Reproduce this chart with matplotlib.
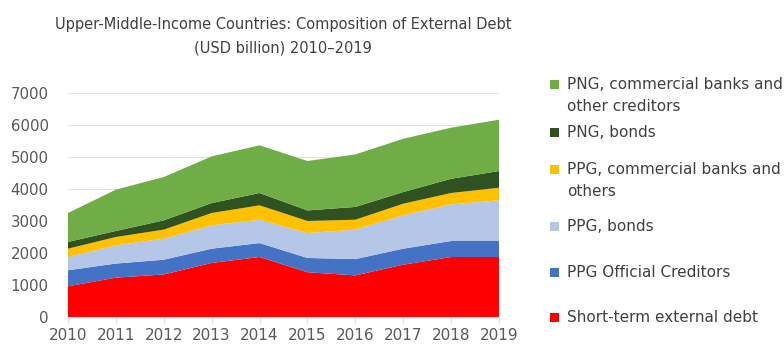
import matplotlib
matplotlib.use("Agg")
import matplotlib.pyplot as plt
from matplotlib.patches import Rectangle

years = [2010, 2011, 2012, 2013, 2014, 2015, 2016, 2017, 2018, 2019]

# USD billion, stacked bottom to top
short_term = [960, 1230, 1330, 1690, 1875, 1400, 1300, 1635, 1875, 1875]
ppg_official = [500, 440, 460, 445, 435, 445, 510, 500, 500, 500]
ppg_bonds = [415, 570, 660, 730, 730, 780, 920, 1045, 1145, 1270]
ppg_commercial = [260, 260, 280, 385, 450, 375, 310, 360, 355, 395]
png_bonds = [210, 190, 290, 310, 385, 330, 400, 365, 445, 520]
png_commercial = [905, 1290, 1355, 1460, 1490, 1545, 1640, 1665, 1595, 1605]

series = [short_term, ppg_official, ppg_bonds, ppg_commercial, png_bonds, png_commercial]
colors = ["#FF0000", "#4472C4", "#B4C7E7", "#FFC000", "#2F5220", "#70AD47"]

legend_labels = [
    "PNG, commercial banks and\nother creditors",
    "PNG, bonds",
    "PPG, commercial banks and\nothers",
    "PPG, bonds",
    "PPG Official Creditors",
    "Short-term external debt",
]
legend_colors = ["#70AD47", "#2F5220", "#FFC000", "#B4C7E7", "#4472C4", "#FF0000"]

plt.rcParams["font.family"] = ["DejaVu Sans"]
text_color = "#595959"

fig = plt.figure(figsize=(7.84, 3.5), dpi=100)
ax = fig.add_axes([68 / 784, 1 - 317 / 350, (499 - 68) / 784, (317 - 93) / 350])

ax.stackplot(years, *series, colors=colors, linewidth=0)

ax.set_xlim(years[0], years[-1])
ax.set_ylim(0, 7000)
ax.set_yticks(range(0, 7001, 1000))
ax.set_xticks(years)
ax.yaxis.grid(True, color="#E3E3E3", linewidth=0.8)
ax.set_axisbelow(True)
for side in ["top", "right", "left"]:
    ax.spines[side].set_visible(False)
ax.spines["bottom"].set_color("#E0E0E0")
ax.tick_params(axis="y", length=0, labelsize=10.8, labelcolor=text_color, pad=14)
ax.tick_params(axis="x", length=4, color="#E0E0E0", labelsize=11,
               labelcolor=text_color, pad=4)

fig.text(283 / 784, 1 - 25 / 350, "Upper-Middle-Income Countries: Composition of External Debt",
         ha="center", va="center", fontsize=10.5, color="#404040")
fig.text(283 / 784, 1 - 48 / 350, "(USD billion) 2010\u20132019",
         ha="center", va="center", fontsize=10.5, color="#404040")

# legend drawn by hand to keep the uneven spacing
first_line_y = [85, 133, 170, 227, 273, 318]
for label, col, yp in zip(legend_labels, legend_colors, first_line_y):
    fig.patches.append(Rectangle((550 / 784, 1 - (yp + 4) / 350), 9 / 784, 9 / 350,
                                 transform=fig.transFigure, facecolor=col,
                                 edgecolor="none"))
    fig.text(567 / 784, 1 - (yp - 8) / 350, label, ha="left", va="top",
             fontsize=11, color="#404040", linespacing=1.55)

fig.savefig("out.png", dpi=100)
